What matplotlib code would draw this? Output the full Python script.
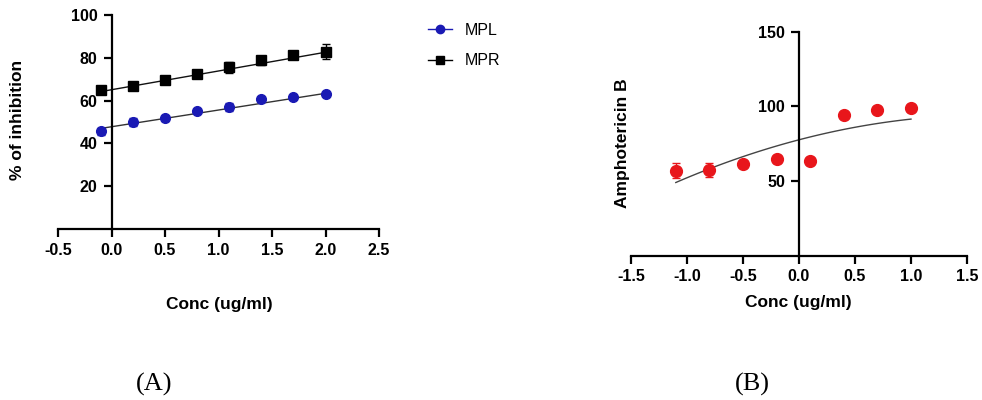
import matplotlib
matplotlib.use("Agg")
import matplotlib.pyplot as plt
import numpy as np
from matplotlib.lines import Line2D

plt.rcParams['font.family'] = ['Liberation Sans', 'DejaVu Sans']

# ---- Panel A data ----
conc_a = [-0.1, 0.2, 0.5, 0.8, 1.1, 1.4, 1.7, 2.0]
mpl_vals = [45.6, 49.9, 51.7, 55.2, 57.1, 60.8, 61.6, 63.0]
mpl_err = [1.5, 2.0, 1.0, 1.0, 2.0, 1.0, 1.0, 0.8]
mpr_vals = [64.8, 67.0, 69.5, 72.2, 75.6, 78.8, 81.1, 82.8]
mpr_err = [1.0, 1.0, 1.0, 1.5, 2.5, 2.2, 1.0, 3.5]
fit_x_a = [-0.1, 2.0]
mpl_fit = [47.0, 63.4]
mpr_fit = [64.2, 82.6]

# ---- Panel B data ----
conc_b = [-1.1, -0.8, -0.5, -0.2, 0.1, 0.4, 0.7, 1.0]
ampho_vals = [56.8, 57.4, 61.4, 64.6, 63.6, 94.3, 97.9, 98.8]
ampho_err = [5.0, 4.5, 1.5, 2.5, 1.0, 1.0, 1.0, 1.0]
curve_x_b = [-1.1, -0.5, 0.0, 0.5, 1.0]
curve_y_b = [48.9, 66.6, 77.5, 86.0, 91.6]

fig = plt.figure(figsize=(9.82, 4.0), dpi=100)

blue = '#1a1ab4'
red = '#e8161b'
lw = 1.6
TICK_FS = 11.5
LABEL_FS = 12.5

def style(ax):
    for s in ['top', 'right']:
        ax.spines[s].set_visible(False)
    ax.spines['left'].set_position(('data', 0))
    ax.spines['left'].set_linewidth(lw)
    ax.spines['bottom'].set_linewidth(lw)
    ax.tick_params(width=lw, length=6, direction='out', pad=4)
    for lab in ax.get_xticklabels() + ax.get_yticklabels():
        lab.set_fontweight('bold')
        lab.set_fontsize(TICK_FS)

# Panel A
axA = fig.add_axes([58/982, 1-229/400, 321/982, 214/400])
axA.set_xlim(-0.5, 2.5)
axA.set_ylim(0, 100)
xa = np.arange(-0.5, 2.51, 0.5)
axA.set_xticks(xa)
axA.set_xticklabels(['%.1f' % (v if abs(v) > 1e-9 else 0.0) for v in xa])
axA.set_yticks([20, 40, 60, 80, 100])
axA.plot(fit_x_a, mpl_fit, color='#333333', lw=1.0, zorder=2)
axA.plot(fit_x_a, mpr_fit, color='#111111', lw=1.0, zorder=2)
axA.errorbar(conc_a, mpl_vals, yerr=mpl_err, fmt='o', color=blue, ms=7,
             ecolor=blue, elinewidth=1, capsize=3, zorder=3, clip_on=False)
axA.errorbar(conc_a, mpr_vals, yerr=mpr_err, fmt='s', color='black', ms=7,
             ecolor='black', elinewidth=1, capsize=3, zorder=3, clip_on=False)
style(axA)
fig.text(219/982, 1-304/400, 'Conc (ug/ml)', ha='center', va='center',
         fontsize=LABEL_FS, fontweight='bold')
fig.text(18/982, 1-120/400, '% of inhibition', ha='center', va='center',
         rotation=90, fontsize=LABEL_FS, fontweight='bold')

handles = [Line2D([0], [0], color=blue, marker='o', ms=6, lw=1),
           Line2D([0], [0], color='black', marker='s', ms=6, lw=1)]
fig.legend(handles, ['MPL', 'MPR'], loc='upper left',
           bbox_to_anchor=(428/982, 1-23/400), frameon=False, fontsize=11.5,
           handlelength=1.5, handletextpad=0.8, labelspacing=0.95,
           borderpad=0, borderaxespad=0)

# Panel B
axB = fig.add_axes([631/982, 1-255.5/400, 336/982, 223.5/400])
axB.set_xlim(-1.5, 1.5)
axB.set_ylim(0, 150)
xt = np.arange(-1.5, 1.51, 0.5)
axB.set_xticks(xt)
axB.set_xticklabels(['%.1f' % (v if abs(v) > 1e-9 else 0.0) for v in xt])
axB.set_yticks([50, 100, 150])
coef = np.polyfit(curve_x_b, curve_y_b, 2)
xx = np.linspace(curve_x_b[0], curve_x_b[-1], 100)
axB.plot(xx, np.polyval(coef, xx), color='#444444', lw=1.0, zorder=2)
axB.errorbar(conc_b, ampho_vals, yerr=ampho_err, fmt='o', color=red, ms=8.5,
             ecolor=red, elinewidth=1, capsize=3, zorder=3, clip_on=False)
style(axB)
fig.text(798/982, 1-302/400, 'Conc (ug/ml)', ha='center', va='center',
         fontsize=LABEL_FS, fontweight='bold')
fig.text(622/982, 1-143/400, 'Amphotericin B', ha='center', va='center',
         rotation=90, fontsize=LABEL_FS, fontweight='bold')

fig.text(154/982, 1-384/400, '(A)', ha='center', va='center',
         fontsize=19, family='Liberation Serif')
fig.text(752/982, 1-384/400, '(B)', ha='center', va='center',
         fontsize=19, family='Liberation Serif')

fig.savefig('out.png', dpi=100)
